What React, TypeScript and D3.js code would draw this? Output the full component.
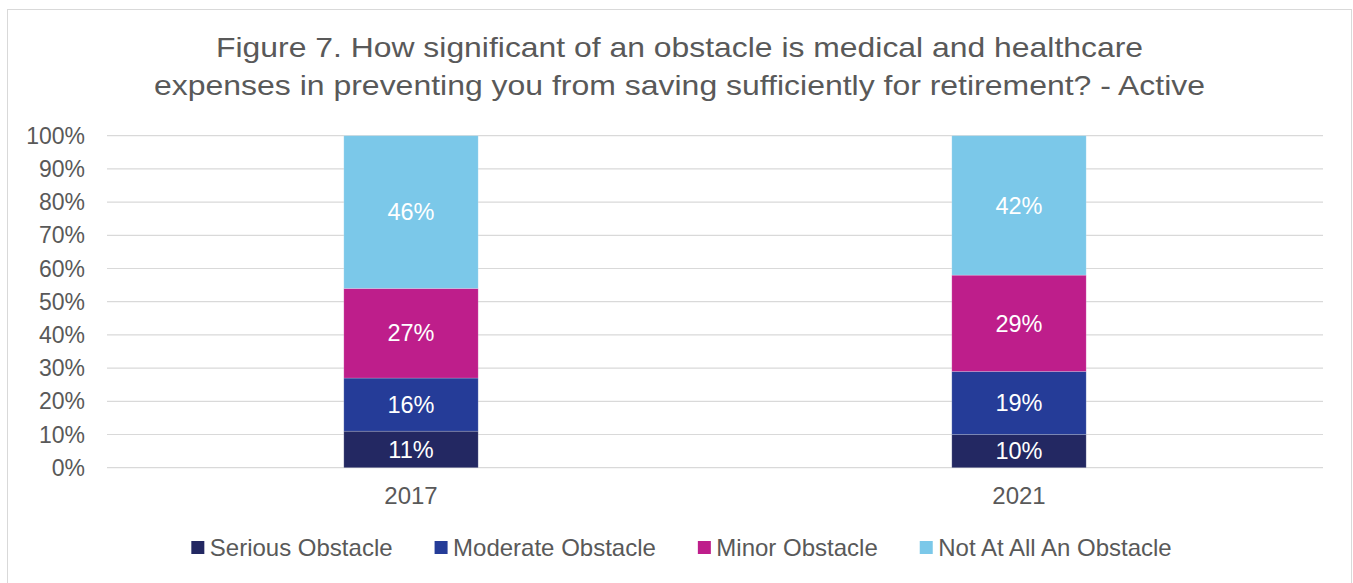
import React from "react";
import * as d3 from "d3";

const categories = ["2017", "2021"];
const seriesNames = ["Serious Obstacle", "Moderate Obstacle", "Minor Obstacle", "Not At All An Obstacle"];
const seriesColors = ["#232862", "#253c98", "#be1e8b", "#7bc8e9"];
const serious = [11, 10];
const moderate = [16, 19];
const minor = [27, 29];
const notAtAll = [46, 42];
const yTicks = [0, 10, 20, 30, 40, 50, 60, 70, 80, 90, 100];
const titleLines = [
  "Figure 7. How significant of an obstacle is medical and healthcare",
  "expenses in preventing you from saving sufficiently for retirement? - Active",
];

const W = 1353;
const H = 583;
const FONT = "'Liberation Sans', Arial, sans-serif";
const TEXT = "#595959";

function measure(text: string, size: number): number {
  if (typeof document === "undefined") return text.length * size * 0.5;
  const c = document.createElement("canvas").getContext("2d");
  if (!c) return text.length * size * 0.5;
  c.font = `${size}px 'Liberation Sans', Arial, sans-serif`;
  return c.measureText(text).width;
}

export default function App() {
  const margin = { left: 107, right: 30, top: 135.7, bottom: 115.3 };
  const plotRight = W - margin.right;
  const plotBottom = H - margin.bottom;

  const x = d3.scaleBand<string>().domain(categories).range([margin.left, plotRight]).padding(0);
  const y = d3.scaleLinear().domain([0, 100]).range([plotBottom, margin.top]);
  const barW = x.bandwidth() * 0.221;

  const rows = categories.map((c, i) => ({
    cat: c,
    s0: serious[i],
    s1: moderate[i],
    s2: minor[i],
    s3: notAtAll[i],
  }));
  const stack = d3.stack<any>().keys(["s0", "s1", "s2", "s3"])(rows);

  const legendSize = 24;
  const sw = 13;
  const swGap = 5.5;
  const itemGap = 42;
  const widths = seriesNames.map((n) => measure(n, legendSize));
  const total = widths.reduce((a, b) => a + b, 0) + seriesNames.length * (sw + swGap) + (seriesNames.length - 1) * itemGap;
  let lx = 683.5 - total / 2;
  const legendItems = seriesNames.map((n, i) => {
    const item = { name: n, x: lx, color: seriesColors[i] };
    lx += sw + swGap + widths[i] + itemGap;
    return item;
  });
  const legendY = 547.5;

  const titleSize = 31;
  const titleScaleY = 0.9;
  const titleWidths = [927, 1051];

  return (
    <svg
      width={W}
      height={H}
      style={{ position: "absolute", left: 0, top: 0, background: "#fff" }}
      fontFamily={FONT}
    >
      <rect x={0} y={0} width={W} height={H} fill="#fff" />
      <rect x={7.5} y={9.5} width={1344} height={600} fill="#fff" stroke="#d9d9d9" strokeWidth={1} />

      {titleLines.map((t, i) => (
        <text
          key={i}
          transform={`translate(679.5, ${56.7 + i * 37.8}) scale(1, ${titleScaleY})`}
          textAnchor="middle"
          fontSize={titleSize}
          fill={TEXT}
          textLength={titleWidths[i]}
          lengthAdjust="spacingAndGlyphs"
        >
          {t}
        </text>
      ))}

      {yTicks.map((t) => (
        <g key={t}>
          <line x1={margin.left} x2={plotRight} y1={y(t)} y2={y(t)} stroke="#d9d9d9" strokeWidth={1.2} />
          <text x={85} y={y(t)} dy="0.35em" textAnchor="end" fontSize={23} fill={TEXT}>
            {t}%
          </text>
        </g>
      ))}

      {stack.map((layer, li) =>
        layer.map((d, ci) => {
          const cx = (x(rows[ci].cat) as number) + x.bandwidth() / 2;
          const y0 = y(d[0]);
          const y1 = y(d[1]);
          const v = d[1] - d[0];
          return (
            <g key={`${li}-${ci}`}>
              <rect
                x={cx - barW / 2}
                y={y1}
                width={barW}
                height={y0 - y1}
                fill={seriesColors[li]}
                stroke="#ffffff"
                strokeOpacity={0.25}
                strokeWidth={0.75}
              />
              <text
                x={cx}
                y={(y0 + y1) / 2}
                dy="0.35em"
                textAnchor="middle"
                fontSize={23.5}
                fill="#ffffff"
              >
                {v}%
              </text>
            </g>
          );
        })
      )}

      {categories.map((c) => (
        <text
          key={c}
          x={(x(c) as number) + x.bandwidth() / 2}
          y={504}
          textAnchor="middle"
          fontSize={24}
          fill={TEXT}
        >
          {c}
        </text>
      ))}

      {legendItems.map((it) => (
        <g key={it.name}>
          <rect x={it.x} y={legendY - sw / 2} width={sw} height={sw} fill={it.color} />
          <text x={it.x + sw + swGap} y={legendY} dy="0.35em" fontSize={legendSize} fill={TEXT}>
            {it.name}
          </text>
        </g>
      ))}
    </svg>
  );
}
